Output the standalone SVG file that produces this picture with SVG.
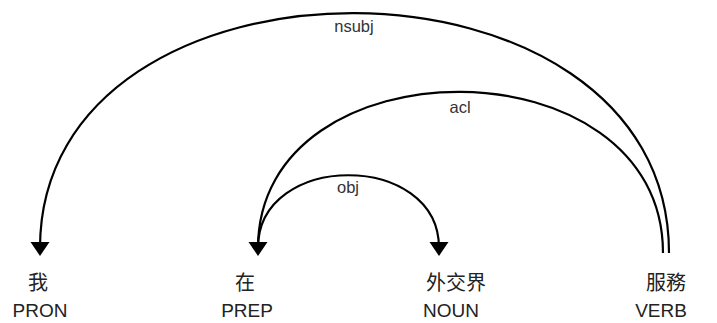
<svg xmlns="http://www.w3.org/2000/svg" width="717" height="323" viewBox="0 0 717 323">
<style>
.arc{fill:none;stroke:#000;stroke-width:2.2}
.head{fill:#000}
.lbl{font-family:"Liberation Sans",Arial,sans-serif;font-size:16.5px;fill:#333;text-anchor:middle}
.word{font-family:"Noto Sans CJK TC","Noto Sans CJK SC",sans-serif;font-size:20px;fill:#222;text-anchor:middle}
.tag{font-family:"Liberation Sans",Arial,sans-serif;font-size:19px;fill:#222;text-anchor:middle}
</style>
<rect width="717" height="323" fill="#fff"/>
<g id="connectors">
  <g id="arc-nsubj">
    <path class="arc" d="M40,248 C40,-66 669,-66 669,253"/>
    <polygon class="head" points="30.5,242 49.5,242 40,256"/>
    <text class="lbl" x="354" y="32">nsubj</text>
  </g>
  <g id="arc-acl">
    <path class="arc" d="M258,248 C258,39 663,39 663,253"/>
    <polygon class="head" points="248.5,242 267.5,242 258,256"/>
    <text class="lbl" x="460" y="113">acl</text>
  </g>
  <g id="arc-obj">
    <path class="arc" d="M258,248 C258,151 439,151 439,248"/>
    <polygon class="head" points="429.5,242 448.5,242 439,256"/>
    <text class="lbl" x="348" y="193">obj</text>
  </g>
</g>
<g id="node-wo">
  <text class="word" x="38" y="290">我</text>
  <text class="tag" x="40" y="317">PRON</text>
</g>
<g id="node-zai">
  <text class="word" x="245" y="290">在</text>
  <text class="tag" x="247" y="317">PREP</text>
</g>
<g id="node-waijiaojie">
  <text class="word" x="456" y="290">外交界</text>
  <text class="tag" x="451" y="317">NOUN</text>
</g>
<g id="node-fuwu">
  <text class="word" x="666" y="290">服務</text>
  <text class="tag" x="661" y="317">VERB</text>
</g>
</svg>
